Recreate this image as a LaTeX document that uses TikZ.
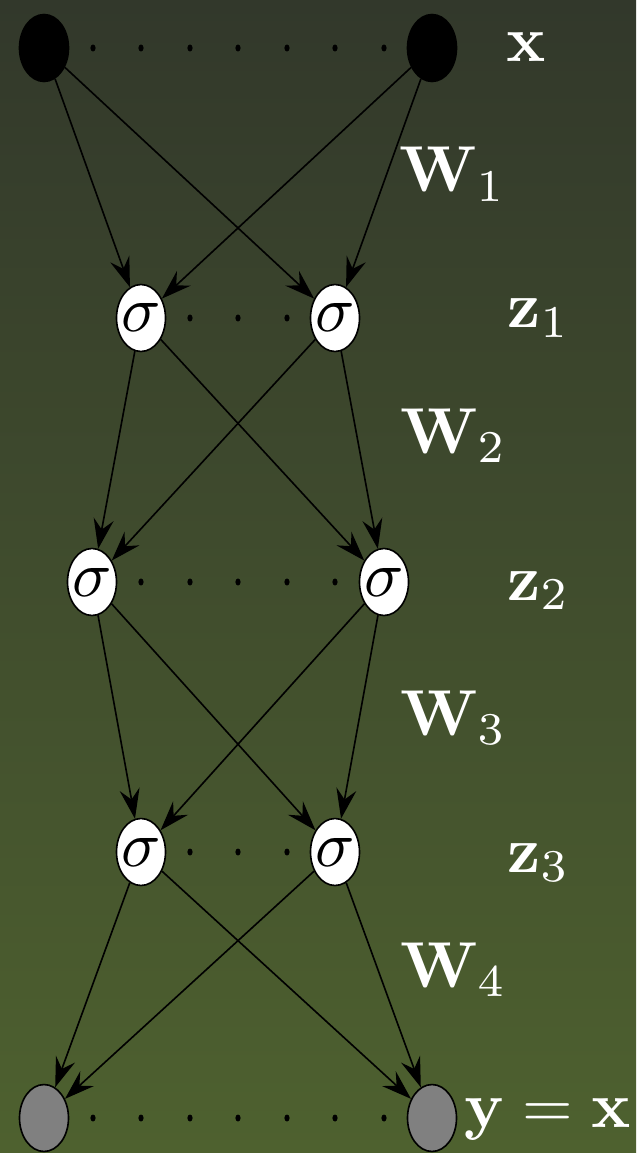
\documentclass[tikz,border=0pt]{standalone}
\usetikzlibrary{shapes.geometric,arrows.meta}
\definecolor{bgtop}{RGB}{50,56,43}
\definecolor{bgbot}{RGB}{78,97,47}
\tikzset{
  unit/.style={ellipse,draw=black,line width=0.25pt,minimum width=2.65mm,minimum height=3.62mm,inner sep=0pt,inner xsep=-1pt},
  inunit/.style={unit,fill=black},
  sigunit/.style={unit,fill=white},
  outunit/.style={unit,fill=gray},
  wire/.style={line width=0.25pt,-{Stealth[length=4.6pt,width=3.1pt,inset=1.6pt]}},
  lbl/.style={text=white,anchor=base west,inner sep=0pt},
}
\begin{document}
\begin{tikzpicture}[x=0.05407mm,y=-0.05407mm]
        \shade[top color=bgtop,bottom color=bgbot] (0,0) rectangle (636,1153);
        \useasboundingbox (0,0) rectangle (636,1153);

        % input layer
        \node[inunit] (x1) at (44,48) {};
        \node[inunit] (x2) at (432,48) {};
        \foreach \i in {93,141,190,238,287,335,384}
          \fill (\i,48) ellipse (0.4pt and 0.54pt);

        % first hidden layer
        \node[sigunit] (a1) at (141,318) {$\sigma$};
        \node[sigunit] (a2) at (335,318) {$\sigma$};
        \foreach \i in {190,238,287}
          \fill (\i,318) ellipse (0.4pt and 0.54pt);

        % second hidden layer
        \node[sigunit] (b1) at (92,582) {$\sigma$};
        \node[sigunit] (b2) at (384,582) {$\sigma$};
        \foreach \i in {141,190,238,287,335}
          \fill (\i,582) ellipse (0.4pt and 0.54pt);

        % third hidden layer
        \node[sigunit] (c1) at (141,852) {$\sigma$};
        \node[sigunit] (c2) at (335,852) {$\sigma$};
        \foreach \i in {190,238,287}
          \fill (\i,852) ellipse (0.4pt and 0.54pt);

        % output layer
        \node[outunit] (y1) at (44,1118) {};
        \node[outunit] (y2) at (432,1118) {};
        \foreach \i in {93,141,190,238,287,335,384}
          \fill (\i,1118) ellipse (0.4pt and 0.54pt);

        % weights
        \draw[wire] (x1) -- (a1);
        \draw[wire] (x1) -- (a2);
        \draw[wire] (x2) -- (a1);
        \draw[wire] (x2) -- (a2);

        \draw[wire] (a1) -- (b1);
        \draw[wire] (a1) -- (b2);
        \draw[wire] (a2) -- (b1);
        \draw[wire] (a2) -- (b2);

        \draw[wire] (b1) -- (c1);
        \draw[wire] (b1) -- (c2);
        \draw[wire] (b2) -- (c1);
        \draw[wire] (b2) -- (c2);

        \draw[wire] (c1) -- (y1);
        \draw[wire] (c1) -- (y2);
        \draw[wire] (c2) -- (y1);
        \draw[wire] (c2) -- (y2);

        % labels
        \node[lbl] (lx) at (505,62) {$\mathbf{x}$};
        \node[lbl] (lw1) at (398,192) {$\mathbf{W}_1$};
        \node[lbl] (lz1) at (506,328) {$\mathbf{z}_1$};
        \node[lbl] (lw2) at (399,453) {$\mathbf{W}_2$};
        \node[lbl] (lz2) at (506,600) {$\mathbf{z}_2$};
        \node[lbl] (lw3) at (399,735) {$\mathbf{W}_3$};
        \node[lbl] (lz3) at (506,872) {$\mathbf{z}_3$};
        \node[lbl] (lw4) at (399,987) {$\mathbf{W}_4$};
        \node[lbl] (ly) at (463,1127) {$\mathbf{y}=\mathbf{x}$};
\end{tikzpicture}
\end{document}
